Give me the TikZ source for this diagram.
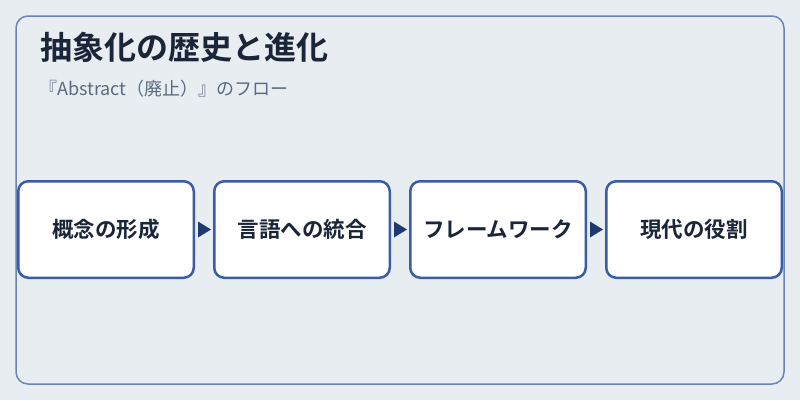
\documentclass[tikz,border=0pt]{standalone}
\usepackage{fontspec}
\setmainfont{Noto Sans CJK JP}[BoldFont={Noto Sans CJK JP Bold}]
\usepackage{xcolor}
\usepackage{tikz}
\usetikzlibrary{positioning}
\usetikzlibrary{calc}

\definecolor{pagebg}{HTML}{E8EDF2}
\definecolor{framecol}{HTML}{6A84B4}
\definecolor{boxcol}{HTML}{3A5CA6}
\definecolor{arrowcol}{HTML}{1E3A70}
\definecolor{inkcol}{HTML}{1A2538}
\definecolor{subcol}{HTML}{5A6A80}

\tikzset{
  stagebox/.style={draw=boxcol, line width=2.5pt, fill=white, rounded corners=10pt,
    minimum width=175.5pt, minimum height=96.5pt, inner sep=0pt,
    font=\bfseries\fontsize{21.5pt}{24pt}\selectfont, text=inkcol},
  flowtip/.style={fill=arrowcol}
}

\begin{document}
\begin{tikzpicture}[x=1pt,y=-1pt]

% Background and frame
\fill[pagebg] (0,0) rectangle (800,400);
\useasboundingbox (0,0) rectangle (800,400);
\draw[framecol, line width=1.5pt, rounded corners=12pt] (16,16) rectangle (784,384);

% Title
\node[anchor=west, inner sep=0pt, text=inkcol, font=\bfseries\fontsize{32pt}{36pt}\selectfont] (title) at (40,47) {抽象化の歴史と進化};
\node[anchor=west, inner sep=0pt, text=subcol, font=\fontsize{18pt}{21pt}\selectfont] (subtitle) at (39,89) {『Abstract（廃止）』のフロー};

% Stages
\node[stagebox] (concept) at (106,229.5) {概念の形成};
\node[stagebox, right=18pt of concept] (lang) {言語への統合};
\node[stagebox, right=18pt of lang] (frame) {フレームワーク};
\node[stagebox, right=18pt of frame] (role) {現代の役割};

% Arrows between stages
\fill[flowtip] ($(concept.east)+(3,-8)$) -- ($(concept.east)+(3,8)$) -- ($(lang.west)+(-2,0)$) -- cycle;
\fill[flowtip] ($(lang.east)+(3,-8)$) -- ($(lang.east)+(3,8)$) -- ($(frame.west)+(-2,0)$) -- cycle;
\fill[flowtip] ($(frame.east)+(3,-8)$) -- ($(frame.east)+(3,8)$) -- ($(role.west)+(-2,0)$) -- cycle;

\end{tikzpicture}
\end{document}
